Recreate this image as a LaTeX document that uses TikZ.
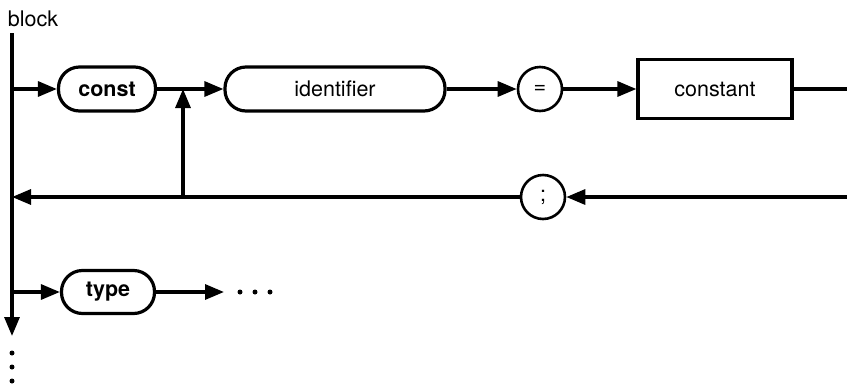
\documentclass[tikz,border=0pt]{standalone}
\usepackage{fontspec}
\setmainfont{TeX Gyre Heros}
\usetikzlibrary{arrows.meta}
\begin{document}
\begin{tikzpicture}[x=1pt,y=-1pt,
  line width=3.2pt,
  arr/.style={-{Triangle[length=19pt,width=15pt]}},
  pill/.style={draw,rounded corners=21pt,minimum height=44pt,inner sep=0pt,font=\fontsize{21.5}{24}\selectfont},
  circ/.style={draw,circle,minimum size=44pt,inner sep=0pt,line width=2.6pt,font=\fontsize{21.5}{24}\selectfont},
  box/.style={draw,rectangle,minimum width=154pt,minimum height=59pt,inner sep=0pt,font=\fontsize{21.5}{24}\selectfont},
  lbl/.style={inner sep=0pt,font=\fontsize{21.5}{24}\selectfont},
  dot/.style={circle,fill,inner sep=0pt,minimum size=5pt}]
\useasboundingbox (0,0) rectangle (847,384);
\node[lbl] (block) at (33,19) {block};
\coordinate (top) at (12,33);
\coordinate (bot) at (12,336);
\coordinate (j1) at (12,89);
\coordinate (j2) at (12,197);
\coordinate (j3) at (12,292);
\coordinate (ja) at (183,89);
\coordinate (jb) at (183,197);
\coordinate (r1) at (847,89);
\coordinate (r2) at (847,197);
\coordinate (tend) at (224,292);
\node[pill,minimum width=97pt,font=\fontsize{21.5}{24}\selectfont\bfseries] (const) at (107,89) {const};
\node[pill,minimum width=220pt] (ident) at (335,89) {identifier};
\node[circ] (eq) at (540,89) {=};
\node[box] (constant) at (715,89) {constant};
\node[circ] (semi) at (543,197) {;};
\node[pill,minimum width=93pt,minimum height=43pt,font=\fontsize{21.5}{24}\selectfont\bfseries] (type) at (108,292) {type};
\node[dot] (d1) at (240,292) {};
\node[dot] (d2) at (255,292) {};
\node[dot] (d3) at (270,292) {};
\node[dot] (v1) at (12,353) {};
\node[dot] (v2) at (12,367) {};
\node[dot] (v3) at (12,381) {};
\draw[arr] (top) -- (bot);
\draw[arr] (j1) -- (const);
\draw (const) -- (ja);
\draw[arr] (ja) -- (ident);
\draw[arr] (jb) -- (ja);
\draw[arr] (ident) -- (eq);
\draw[arr] (eq) -- (constant);
\draw (constant) -- (r1);
\draw[arr] (r2) -- (semi);
\draw[arr] (semi) -- (j2);
\draw[arr] (j3) -- (type);
\draw[arr] (type) -- (tend);
\end{tikzpicture}
\end{document}
